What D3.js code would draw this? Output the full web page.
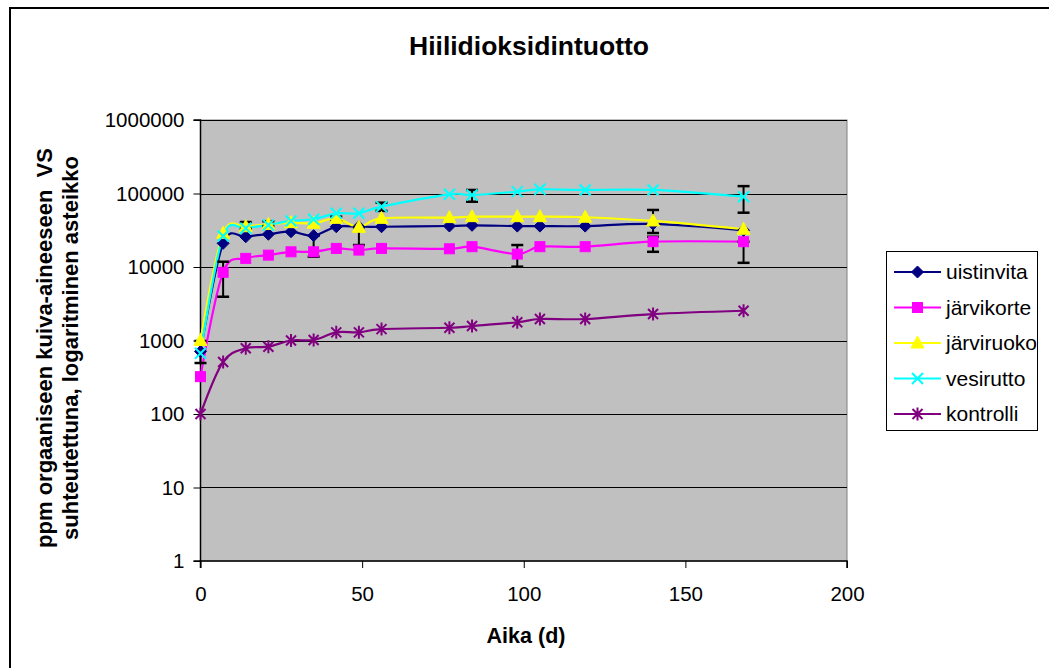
<!DOCTYPE html>
<html><head><meta charset="utf-8">
<script src="https://cdn.jsdelivr.net/npm/d3@7"></script>
<style>body{margin:0;background:#fff}svg{display:block;font-family:"Liberation Sans",Arial,sans-serif}</style>
</head><body>
<svg id="c" width="1049" height="668"></svg>
<script>
const days = [0, 7, 14, 21, 28, 35, 42, 49, 56, 77, 84, 98, 105, 119, 140, 168];
const seriesNames = ["uistinvita", "järvikorte", "järviruoko", "vesirutto", "kontrolli"];
const uistinvita = [710, 21000, 25800, 27900, 30200, 26700, 35300, 35300, 35300, 36100, 36900, 36000, 36000, 36000, 38500, 31500];
const jarvikorte = [322, 8470, 13100, 14500, 16100, 16100, 17900, 17000, 17900, 17700, 18900, 15000, 18900, 18900, 22100, 22100];
const jarviruoko = [1000, 28700, 35300, 38000, 40100, 39300, 45900, 34700, 45900, 47000, 48400, 48400, 48400, 47500, 42300, 32600];
const vesirutto = [670, 26400, 33600, 37300, 42300, 44600, 53800, 53800, 66200, 97500, 95400, 106000, 114000, 111700, 111700, 90500];
const kontrolli = [100, 510, 783, 824, 1000, 1016, 1290, 1290, 1430, 1490, 1575, 1770, 1960, 1960, 2290, 2540];
const yTicks = [1, 10, 100, 1000, 10000, 100000, 1000000];
const xTicks = [0, 50, 100, 150, 200];
// error bars: [day, low, high]
const errDays = [0, 7, 14, 21, 35, 42, 49, 56, 84, 98, 140, 140, 168, 168];
const errLow  = [494, 3940, 33000, 36000, 13800, 42000, 19900, 58000, 77300, 10100, 29000, 16100, 54800, 11400];
const errHigh = [985, 11800, 40900, 42000, 26700, 48400, 34700, 75000, 111700, 19900, 59700, 25800, 126000, 22100];

const colors = ["#000080", "#FF00FF", "#FFFF00", "#00FFFF", "#800080"];
const values = [uistinvita, jarvikorte, jarviruoko, vesirutto, kontrolli];

const svg = d3.select("#c");
const x = d3.scaleLinear().domain([0, 200]).range([200.5, 847]);
const y = d3.scaleLog().domain([1, 1000000]).range([561, 120]);

// outer frame
svg.append("rect").attr("x", 10).attr("y", 8).attr("width", 1100).attr("height", 700)
  .attr("fill", "#fff").attr("stroke", "#000").attr("stroke-width", 2);

// plot area
svg.append("rect").attr("x", x(0)).attr("y", y(1e6)).attr("width", x(200) - x(0)).attr("height", y(1) - y(1e6))
  .attr("fill", "#C0C0C0").attr("stroke", "#808080").attr("stroke-width", 1);

// gridlines
svg.append("g").selectAll("line").data(yTicks.slice(1)).join("line")
  .attr("x1", x(0)).attr("x2", x(200)).attr("y1", d => Math.round(y(d)) + 0.5).attr("y2", d => Math.round(y(d)) + 0.5)
  .attr("stroke", "#000").attr("stroke-width", 1);

// axes
const yAxis = svg.append("g").attr("transform", `translate(${x(0)},0)`)
  .call(d3.axisLeft(y).tickValues(yTicks).tickFormat(d => String(d)).tickSize(7).tickPadding(9));
const xAxis = svg.append("g").attr("transform", `translate(0,${y(1)})`)
  .call(d3.axisBottom(x).tickValues(xTicks).tickFormat(d => String(d)).tickSize(7).tickPadding(18));
[yAxis, xAxis].forEach(g => {
  g.selectAll("path").attr("stroke", "#000").attr("stroke-width", 1.5);
  g.selectAll("line").attr("stroke", "#000");
  g.selectAll("text").attr("font-size", 20.5).attr("fill", "#000").attr("font-family", "Liberation Sans, Arial, sans-serif");
});
yAxis.select(".domain").attr("d", `M-7,${y(1e6)}H0V${y(1)}H-7`);
xAxis.select(".domain").attr("d", `M${x(0)},7V0H${x(200)}V7`);

// lines
const line = d3.line().x((d, i) => x(days[i])).y(d => y(d)).curve(d3.curveCatmullRom.alpha(0));
const order = [4, 1, 0, 2, 3];
order.forEach(s => {
  svg.append("path").datum(values[s]).attr("d", line).attr("fill", "none")
    .attr("stroke", colors[s]).attr("stroke-width", 2.2);
});

// error bars
const eg = svg.append("g").attr("stroke", "#000").attr("stroke-width", 2);
errDays.forEach((d, i) => {
  const cx = x(d);
  eg.append("line").attr("x1", cx).attr("x2", cx).attr("y1", y(errLow[i])).attr("y2", y(errHigh[i]));
  [errLow[i], errHigh[i]].forEach(v => {
    eg.append("line").attr("x1", cx - 6).attr("x2", cx + 6).attr("y1", y(v)).attr("y2", y(v)).attr("stroke-width", 2.5);
  });
});

// markers
function drawMarker(g, s, cx, cy) {
  const c = colors[s];
  if (s === 0) {
    g.append("path").attr("d", `M${cx},${cy - 6}L${cx + 6},${cy}L${cx},${cy + 6}L${cx - 6},${cy}Z`).attr("fill", c).attr("stroke", c);
  } else if (s === 1) {
    g.append("rect").attr("x", cx - 5).attr("y", cy - 5).attr("width", 10).attr("height", 10).attr("fill", c).attr("stroke", c);
  } else if (s === 2) {
    g.append("path").attr("d", `M${cx},${cy - 7}L${cx + 6.5},${cy + 5}L${cx - 6.5},${cy + 5}Z`).attr("fill", c).attr("stroke", c);
  } else if (s === 3) {
    g.append("path").attr("d", `M${cx - 5.5},${cy - 5.5}L${cx + 5.5},${cy + 5.5}M${cx + 5.5},${cy - 5.5}L${cx - 5.5},${cy + 5.5}`)
      .attr("stroke", c).attr("stroke-width", 2).attr("fill", "none");
  } else {
    g.append("path").attr("d", `M${cx - 5},${cy - 5}L${cx + 5},${cy + 5}M${cx + 5},${cy - 5}L${cx - 5},${cy + 5}M${cx},${cy - 6.5}L${cx},${cy + 6.5}`)
      .attr("stroke", c).attr("stroke-width", 2).attr("fill", "none");
  }
}
const mg = svg.append("g");
order.forEach(s => {
  values[s].forEach((v, i) => drawMarker(mg, s, x(days[i]), y(v)));
});

// title
svg.append("text").attr("x", 529).attr("y", 55).attr("text-anchor", "middle")
  .attr("font-size", 26.5).attr("font-weight", "bold").text("Hiilidioksidintuotto");
// axis titles
svg.append("text").attr("x", 526).attr("y", 643).attr("text-anchor", "middle")
  .attr("font-size", 21.5).attr("font-weight", "bold").text("Aika (d)");
const yt = svg.append("text").attr("transform", "translate(52,348) rotate(-90)").attr("text-anchor", "middle")
  .attr("font-size", 22).attr("font-weight", "bold");
yt.append("tspan").attr("x", 0).attr("y", 0).attr("xml:space", "preserve").text("ppm orgaaniseen kuiva-aineeseen  VS");
yt.append("tspan").attr("x", 0).attr("y", 26).text("suhteutettuna, logaritminen asteikko");

// legend
const lg = svg.append("g");
lg.append("rect").attr("x", 886.5).attr("y", 251.5).attr("width", 151).attr("height", 179)
  .attr("fill", "#fff").attr("stroke", "#000").attr("stroke-width", 1);
seriesNames.forEach((n, s) => {
  const ly = 272 + s * 35.5;
  lg.append("line").attr("x1", 894).attr("x2", 941).attr("y1", ly).attr("y2", ly).attr("stroke", colors[s]).attr("stroke-width", 2.2);
  drawMarker(lg, s, 917.5, ly);
  lg.append("text").attr("x", 946).attr("y", ly + 7).attr("font-size", 21).text(n);
});
</script>
</body></html>
